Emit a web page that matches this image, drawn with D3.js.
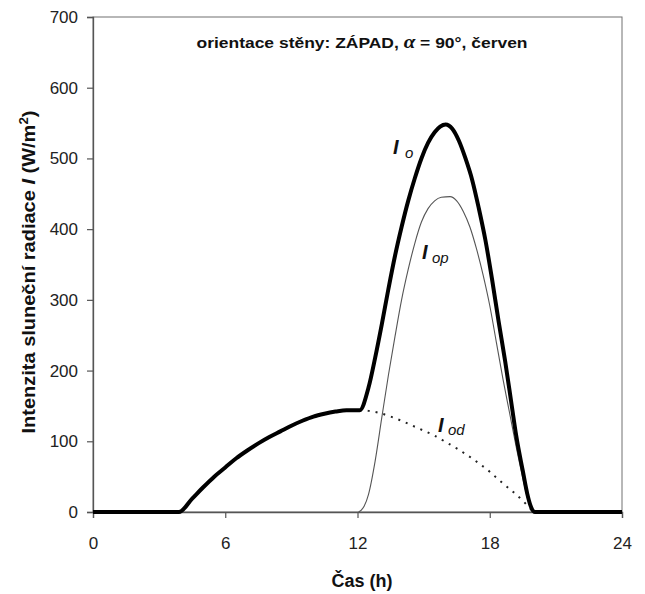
<!DOCTYPE html>
<html>
<head>
<meta charset="utf-8">
<script src="https://cdn.jsdelivr.net/npm/d3@7"></script>
<style>
  html, body { margin: 0; padding: 0; background: #fff; }
  svg { display: block; }
</style>
</head>
<body>
<svg id="chart" width="645" height="594"></svg>
<script>
// ---- data ----
const xTicks = [0, 6, 12, 18, 24];
const yTicks = [0, 100, 200, 300, 400, 500, 600, 700];

// I_o : total radiation (thick line)
const ioHours  = [0, 3.9, 4.5, 5, 5.5, 6, 6.5, 7, 7.5, 8, 8.5, 9, 9.5, 10, 10.5, 11, 11.5, 12.1, 12.5, 12.8, 13.1, 13.4, 13.7, 14, 14.3, 14.6, 14.9, 15.2, 15.5, 15.75, 16, 16.3, 16.6, 16.9, 17.2, 17.5, 17.8, 18.1, 18.4, 18.7, 19, 19.2, 19.5, 19.7, 19.85, 20.05, 24];
const ioValues = [0, 0, 19, 35, 50, 63, 76, 87, 97, 106, 114, 122, 129, 135, 139, 142, 144, 144, 176, 218, 265, 315, 362, 403, 440, 472, 500, 522, 537, 545, 548, 542, 525, 500, 470, 430, 385, 330, 270, 213, 150, 108, 58, 26, 9, 0, 0];

// I_op : direct radiation (thin grey line)
const iopHours  = [12.05, 12.3, 12.5, 12.8, 13.1, 13.4, 13.7, 14, 14.3, 14.6, 14.9, 15.2, 15.5, 15.8, 16.2, 16.5, 16.8, 17.1, 17.4, 17.7, 18, 18.3, 18.6, 18.9, 19.2, 19.5, 19.7, 19.85, 19.95];
const iopValues = [0, 8, 25, 72, 133, 193, 248, 300, 343, 380, 410, 429, 440, 445, 446, 440, 425, 403, 372, 335, 292, 240, 188, 140, 92, 48, 21, 6, 0];

// I_od : diffuse radiation after noon (dotted line)
const iodHours  = [12.1, 12.5, 13, 13.5, 14, 14.5, 15, 15.5, 16, 16.5, 17, 17.5, 18, 18.5, 19, 19.5, 19.8, 20];
const iodValues = [144, 143, 140, 135, 129, 122, 115, 108, 99, 90, 80, 69, 57, 43, 30, 16, 6, 0];

// ---- chart ----
const svg = d3.select("#chart");
const FONT = "'Liberation Sans', Arial, sans-serif";
const x = d3.scaleLinear().domain([0, 24]).range([93, 622]);
const y = d3.scaleLinear().domain([0, 700]).range([512, 17]);

// frame
svg.append("rect")
  .attr("x", x(0)).attr("y", y(700))
  .attr("width", x(24) - x(0)).attr("height", y(0) - y(700))
  .attr("fill", "none").attr("stroke", "#707070").attr("stroke-width", 1);

// axes
const yAxis = svg.append("g").attr("transform", `translate(${x(0)},0)`)
  .call(d3.axisLeft(y).tickValues(yTicks).tickSize(6).tickPadding(9));
const xAxis = svg.append("g").attr("transform", `translate(0,${y(0)})`)
  .call(d3.axisBottom(x).tickValues(xTicks).tickSize(6).tickPadding(19));
[yAxis, xAxis].forEach(g => {
  g.select(".domain").attr("stroke", "#555").attr("stroke-width", 1.3);
  g.selectAll(".tick line").attr("stroke", "#555").attr("stroke-width", 1.2);
  g.selectAll(".tick text").attr("font-family", FONT).attr("font-size", 17).attr("fill", "#222");
});

// lines
const line = d3.line().x(d => x(d[0])).y(d => y(d[1])).curve(d3.curveMonotoneX);
const iop = d3.zip(iopHours, iopValues);
const iod = d3.zip(iodHours, iodValues);
const io  = d3.zip(ioHours, ioValues);

svg.append("path").attr("d", line(iop))
  .attr("fill", "none").attr("stroke", "#555").attr("stroke-width", 1.1);
svg.append("path").attr("d", line(iod))
  .attr("fill", "none").attr("stroke", "#222").attr("stroke-width", 2)
  .attr("stroke-dasharray", "2,6");
svg.append("path").attr("d", line(io))
  .attr("fill", "none").attr("stroke", "#000").attr("stroke-width", 4)
  .attr("stroke-linejoin", "round");

// series labels
function seriesLabel(ix, iy, sx, sy, sub) {
  svg.append("text").attr("x", ix).attr("y", iy)
    .attr("font-family", FONT).attr("font-size", 20).attr("font-weight", "bold")
    .attr("font-style", "italic").attr("fill", "#111").text("I");
  svg.append("text").attr("x", sx).attr("y", sy)
    .attr("font-family", FONT).attr("font-size", 15)
    .attr("font-style", "italic").attr("fill", "#111").text(sub);
}
seriesLabel(393, 154, 405, 158, "o");
seriesLabel(422, 259, 432, 263, "op");
seriesLabel(438, 432, 448, 435, "od");

// title inside plot
const title = svg.append("text").attr("x", 362).attr("y", 48)
  .attr("text-anchor", "middle").attr("font-family", FONT)
  .attr("font-size", 15).attr("font-weight", "bold").attr("fill", "#111")
  .attr("textLength", 331).attr("lengthAdjust", "spacingAndGlyphs");
title.append("tspan").text("orientace stěny: ZÁPAD, ");
title.append("tspan").attr("font-family", "'Liberation Serif', 'Times New Roman', serif")
  .attr("font-style", "italic").attr("font-size", 18).text("α");
title.append("tspan").text(" = 90°, červen");

// x axis title
svg.append("text").attr("x", 362).attr("y", 587)
  .attr("text-anchor", "middle").attr("font-family", FONT)
  .attr("font-size", 18).attr("font-weight", "bold").attr("fill", "#111")
  .text("Čas (h)");

// y axis title
const yt = svg.append("text")
  .attr("transform", "translate(35,272) rotate(-90)")
  .attr("text-anchor", "middle").attr("font-family", FONT)
  .attr("font-size", 18).attr("font-weight", "bold").attr("fill", "#111")
  .attr("textLength", 323).attr("lengthAdjust", "spacingAndGlyphs");
yt.append("tspan").text("Intenzita sluneční radiace ");
yt.append("tspan").attr("font-style", "italic").text("I");
yt.append("tspan").text(" (W/m");
yt.append("tspan").attr("font-size", 12).attr("dy", -7).text("2");
yt.append("tspan").attr("dy", 7).text(")");
</script>
</body>
</html>
